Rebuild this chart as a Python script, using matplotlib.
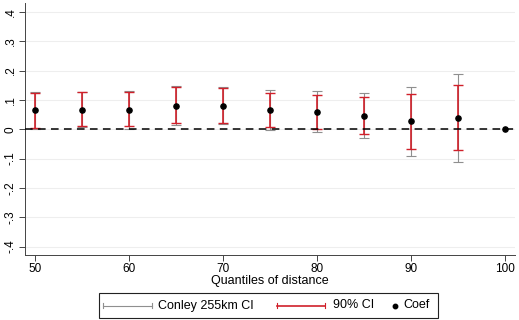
import matplotlib
matplotlib.use("Agg")
import matplotlib.pyplot as plt
from matplotlib.lines import Line2D
from matplotlib.patches import Rectangle
import numpy as np

plt.rcParams['font.family'] = ['Liberation Sans', 'DejaVu Sans']

quantiles = [50, 55, 60, 65, 70, 75, 80, 85, 90, 95, 100]
coef = [0.064, 0.067, 0.067, 0.079, 0.081, 0.067, 0.059, 0.045, 0.027, 0.040, 0.0]
ci90_low = [0.004, 0.012, 0.011, 0.023, 0.021, 0.008, 0.000, -0.017, -0.067, -0.071, 0.0]
ci90_high = [0.124, 0.126, 0.127, 0.143, 0.141, 0.125, 0.118, 0.110, 0.120, 0.151, 0.0]
conley_low = [0.002, 0.008, 0.000, 0.016, 0.018, -0.001, -0.008, -0.030, -0.090, -0.111, 0.0]
conley_high = [0.126, 0.128, 0.129, 0.147, 0.144, 0.133, 0.130, 0.124, 0.143, 0.190, 0.0]

yticks = [-0.4, -0.3, -0.2, -0.1, 0.0, 0.1, 0.2, 0.3, 0.4]
ytick_labels = ["-.4", "-.3", "-.2", "-.1", "0", ".1", ".2", ".3", ".4"]
xticks = [50, 60, 70, 80, 90, 100]
legend_labels = ["Conley 255km CI", "90% CI", "Coef"]

gray = "#8f8f8f"
red = "#d0202a"

W, H = 519, 320
fig = plt.figure(figsize=(W / 100, H / 100), dpi=100)
ax = fig.add_axes([0.048, 0.204, 0.944, 0.786])

x = np.array(quantiles[:-1])
c = np.array(coef[:-1])
ax.errorbar(x, c,
            yerr=[c - np.array(conley_low[:-1]), np.array(conley_high[:-1]) - c],
            fmt='none', ecolor=gray, elinewidth=0.8, capsize=3.5, capthick=0.8, zorder=2)
ax.errorbar(x, c,
            yerr=[c - np.array(ci90_low[:-1]), np.array(ci90_high[:-1]) - c],
            fmt='none', ecolor=red, elinewidth=1.2, capsize=3.5, capthick=1.0, zorder=3)
ax.axhline(0, color='black', lw=1.1, ls=(0, (5, 3.5)), zorder=4)
ax.scatter(quantiles, coef, s=14, color='black', zorder=5)

ax.set_xlim(48.9, 101.1)
ax.set_ylim(-0.428, 0.43)
ax.set_yticks(yticks)
ax.set_yticklabels(ytick_labels, rotation=90, va='center')
ax.set_xticks(xticks)
ax.tick_params(axis='both', labelsize=8.5, length=4, width=0.7, color='#444444', pad=2)
ax.grid(axis='y', color='#eeeeee', lw=0.8)
ax.set_axisbelow(True)
for side in ['top', 'right']:
    ax.spines[side].set_visible(False)
for side in ['left', 'bottom']:
    ax.spines[side].set_linewidth(0.7)
    ax.spines[side].set_color('#444444')
ax.set_xlabel("Quantiles of distance", fontsize=9, labelpad=0)


# legend box below the axes, laid out in pixel units
def fx(px):
    return px / W


def fy(py):
    return 1 - py / H


fig.add_artist(Rectangle((fx(99), fy(318)), fx(438) - fx(99), fy(293) - fy(318),
                         transform=fig.transFigure, fill=False, edgecolor='#222222', lw=0.8))
ly = 305.5
for (x0, x1, col, lw) in [(103, 152, gray, 0.8), (277, 325, red, 1.2)]:
    fig.add_artist(Line2D([fx(x0), fx(x1)], [fy(ly), fy(ly)], color=col, lw=lw,
                          transform=fig.transFigure))
    for xe in (x0, x1):
        fig.add_artist(Line2D([fx(xe), fx(xe)], [fy(ly - 2.5), fy(ly + 2.5)], color=col,
                              lw=0.8, transform=fig.transFigure))
fig.add_artist(Line2D([fx(395)], [fy(ly)], color='black', marker='o', markersize=3.2,
                      lw=0, transform=fig.transFigure))
for xt, label in zip([158, 333, 403], legend_labels):
    fig.text(fx(xt), fy(ly), label, fontsize=9, ha='left', va='center')

fig.savefig("out.png", dpi=100)
